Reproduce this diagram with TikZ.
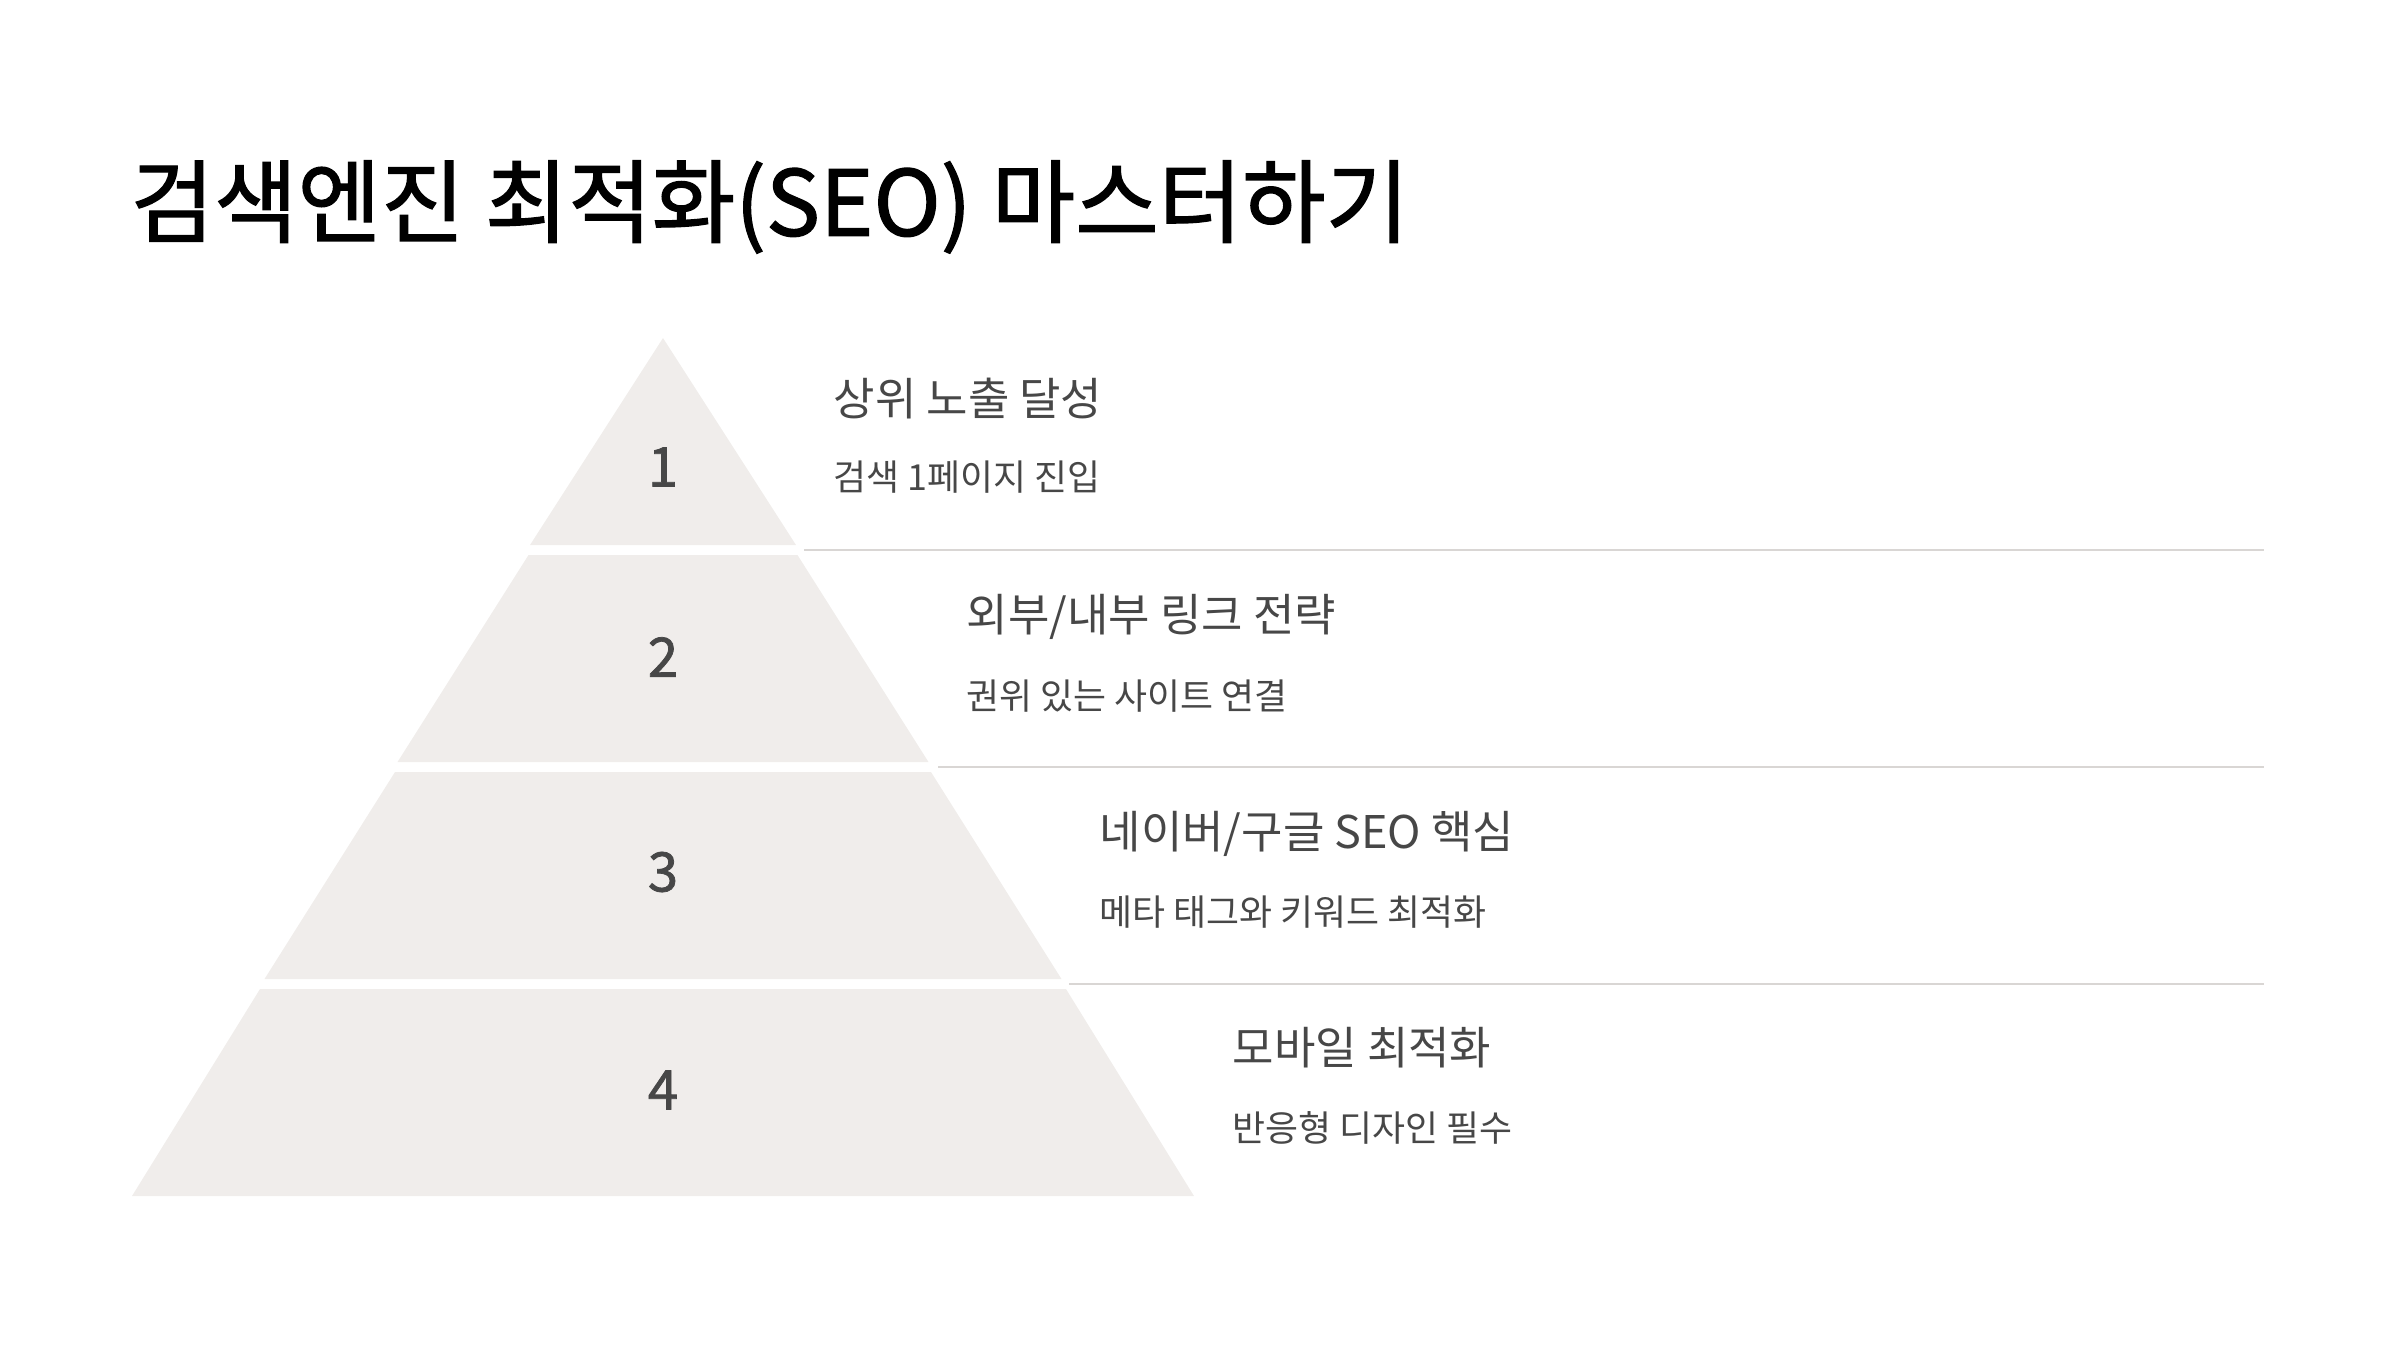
\documentclass[tikz,border=0pt]{standalone}
\usepackage{fontspec}
\setmainfont{Noto Sans CJK KR}
\newfontfamily\medfont{Noto Sans CJK KR}[FakeBold=1.4]
\usetikzlibrary{positioning}
\definecolor{tierfill}{HTML}{F0EDEB}
\definecolor{rulegray}{HTML}{D9D6D4}
\definecolor{textgray}{HTML}{474747}

\begin{document}
\begin{tikzpicture}[x=0.01cm, y=-0.01cm,
                tier/.style={fill=tierfill},
                num/.style={text=textgray, font=\medfont\fontsize{15.5}{18}\selectfont},
                head/.style={anchor=west, inner sep=0pt, text=textgray, font=\fontsize{12.8}{15}\selectfont},
                sub/.style={anchor=west, inner sep=0pt, text=textgray, font=\fontsize{10.2}{12}\selectfont},
                sep line/.style={draw=rulegray, line width=0.6pt},
                ]
                \useasboundingbox (0,0) rectangle (2400,1350);
                \def\cx{663}
                \def\rx{2264}

                \node[anchor=west, inner sep=0pt, font=\medfont\fontsize{25.8}{30}\selectfont] (title) at (130,207) {검색엔진 최적화(SEO) 마스터하기};

                % pyramid tiers
                \fill[tier] (\cx,338) -- (\cx+133,545) -- (\cx-133,545) -- cycle;
                \fill[tier] (\cx-134.5,555) -- (\cx+134.5,555) -- (\cx+265.5,762) -- (\cx-265.5,762) -- cycle;
                \fill[tier] (\cx-268,772) -- (\cx+268,772) -- (\cx+398.5,979) -- (\cx-398.5,979) -- cycle;
                \fill[tier] (\cx-403,989) -- (\cx+403,989) -- (\cx+531,1196) -- (\cx-531,1196) -- cycle;

                \node[num] (n1) at (\cx,467) {1};
                \node[num] (n2) at (\cx,657) {2};
                \node[num] (n3) at (\cx,872) {3};
                \node[num] (n4) at (\cx,1090) {4};

                % separators
                \coordinate (s1a) at (804,550);
                \coordinate (s1b) at (\rx,550);
                \coordinate (s2a) at (938,767);
                \coordinate (s2b) at (\rx,767);
                \coordinate (s3a) at (1069,984);
                \coordinate (s3b) at (\rx,984);
                \draw[sep line] (s1a) -- (s1b);
                \draw[sep line] (s2a) -- (s2b);
                \draw[sep line] (s3a) -- (s3b);

                \node[head] (h1) at (833,399) {상위 노출 달성};
                \node[sub] (d1) at (833,477) {검색 1페이지 진입};
                \node[head] (h2) at (966,617) {외부/내부 링크 전략};
                \node[sub] (d2) at (966,696) {권위 있는 사이트 연결};
                \node[head] (h3) at (1099,834) {네이버/구글 SEO 핵심};
                \node[sub] (d3) at (1099,912) {메타 태그와 키워드 최적화};
                \node[head] (h4) at (1232,1048) {모바일 최적화};
                \node[sub] (d4) at (1232,1128) {반응형 디자인 필수};
            \end{tikzpicture}
\end{document}
